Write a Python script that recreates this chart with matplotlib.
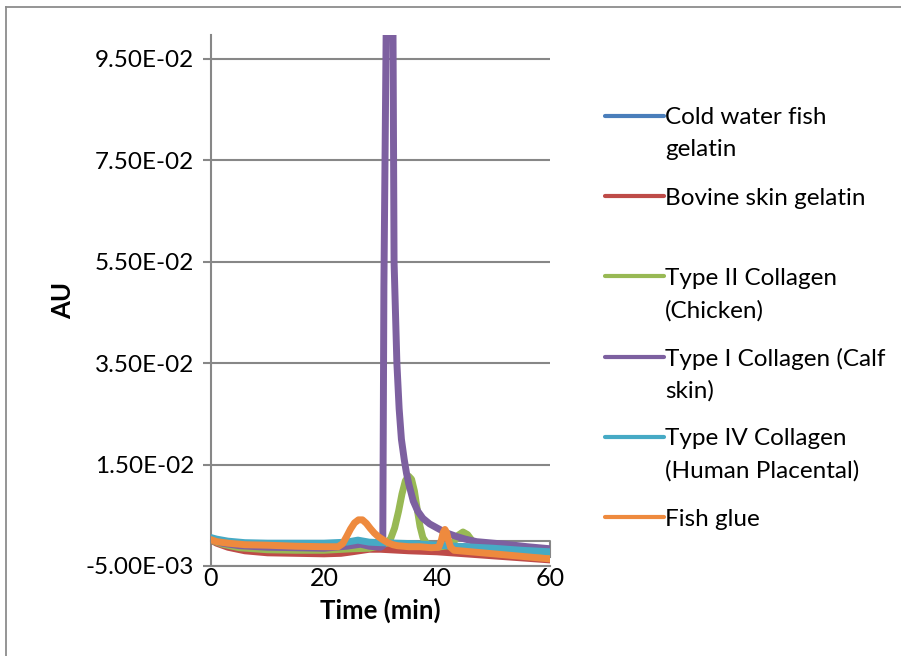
import matplotlib
matplotlib.use("Agg")
import matplotlib.pyplot as plt
from matplotlib.lines import Line2D

plt.rcParams['font.family'] = ['Lato', 'DejaVu Sans']

# ---------------- data ----------------
series_names = [
    "Cold water fish\ngelatin",
    "Bovine skin gelatin",
    "Type II Collagen\n(Chicken)",
    "Type I Collagen (Calf\nskin)",
    "Type IV Collagen\n(Human Placental)",
    "Fish glue",
]
series_colors = ["#4A7EBB", "#BE4B48", "#98B954", "#7D60A0", "#46AAC5", "#EE8A3E"]

t_blue = [0, 1, 3, 6, 10, 15, 20, 24, 26, 28, 30, 35, 40, 45, 50, 55, 60]
v_blue = [0.0005, 0.0001, -0.0004, -0.0007, -0.0008, -0.0008, -0.0008, -0.0006, -0.0003,
          -0.0006, -0.0007, -0.0008, -0.0010, -0.0012, -0.0015, -0.0018, -0.0022]

t_red = [0, 1, 3, 6, 10, 15, 20, 23, 25, 28, 30, 35, 40, 45, 50, 55, 60]
v_red = [0.0001, -0.0005, -0.0013, -0.0020, -0.0024, -0.0025, -0.0026, -0.0025, -0.0022,
         -0.0017, -0.0017, -0.0020, -0.0022, -0.0026, -0.0030, -0.0034, -0.0038]

t_green = [0, 2, 5, 10, 15, 20, 25, 28, 30, 31, 31.8, 32.5, 33.2, 33.8, 34.4, 35.0, 35.5,
           36.0, 36.5, 37.0, 37.5, 38.2, 39, 40, 42, 43, 43.8, 44.6, 45.4, 46.2, 47, 50, 55, 60]
v_green = [0.0001, -0.0007, -0.0014, -0.0018, -0.0019, -0.0019, -0.0016, -0.0015, -0.0010,
           -0.0005, 0.0004, 0.0025, 0.0058, 0.0092, 0.0118, 0.0127, 0.0121,
           0.0098, 0.0062, 0.0028, 0.0006, -0.0006, -0.0011, -0.0013, -0.0010, -0.0002,
           0.0011, 0.0017, 0.0012, 0.0000, -0.0012, -0.0020, -0.0028, -0.0034]

t_purple = [0, 2, 5, 10, 15, 20, 24, 26.5, 28, 30, 30.4, 30.6, 31.8, 32.4, 32.9, 33.3, 33.7,
            34.2, 34.6, 35.0, 35.8, 36.6, 37.5, 38.7, 40, 41.5, 43.5, 45, 47, 52, 56, 60]
v_purple = [0.0002, -0.0005, -0.0010, -0.0013, -0.0014, -0.0015, -0.0011, -0.0007, -0.0011,
            -0.0013, -0.0010, 0.050, 0.200, 0.055, 0.035, 0.026, 0.020,
            0.016, 0.0133, 0.0112, 0.0078, 0.0058, 0.0044, 0.0033, 0.0025, 0.0016, 0.0008,
            0.0003, -0.0002, -0.0007, -0.0012, -0.0016]

t_teal = [0, 1, 3, 6, 10, 15, 20, 24, 26, 28, 30, 33, 36, 40, 45, 50, 55, 60]
v_teal = [0.0006, 0.0003, -0.0001, -0.0004, -0.0005, -0.0005, -0.0005, -0.0003, 0.0001,
          -0.0003, -0.0004, -0.0005, -0.0006, -0.0009, -0.0012, -0.0015, -0.0019, -0.0022]

t_orange = [0, 1, 3, 6, 10, 15, 20, 22.5, 23.3, 24.0, 24.7, 25.4, 26.1, 26.8, 27.5, 28.2,
            28.9, 29.6, 30.4, 31.3, 32.2, 33, 35, 37, 39, 40.3, 40.8, 41.1, 41.4, 41.7, 42.0,
            42.4, 43, 46, 50, 55, 60]
v_orange = [0.0002, -0.0002, -0.0005, -0.0008, -0.0009, -0.0011, -0.0012, -0.0012, -0.0006,
            0.0008, 0.0023, 0.0035, 0.0041, 0.0041, 0.0034, 0.0024,
            0.0015, 0.0008, 0.0002, -0.0004, -0.0008, -0.0010, -0.0012, -0.0012, -0.0014,
            -0.0013, 0.0002, 0.0016, 0.0022, 0.0016, 0.0002,
            -0.0013, -0.0019, -0.0022, -0.0026, -0.0031, -0.0036]

all_t = [t_blue, t_red, t_green, t_purple, t_teal, t_orange]
all_v = [v_blue, v_red, v_green, v_purple, v_teal, v_orange]

y_ticks = [-0.005, 0.015, 0.035, 0.055, 0.075, 0.095]
y_tick_labels = ["-5.00E-03", "1.50E-02", "3.50E-02", "5.50E-02", "7.50E-02", "9.50E-02"]
x_ticks = [0, 20, 40, 60]
x_tick_labels = ["0", "20", "40", "60"]
x_label = "Time (min)"
y_label = "AU"

# ---------------- figure ----------------
W, H = 901, 656
fig = plt.figure(figsize=(W / 100, H / 100), dpi=100)
fig.patch.set_facecolor("white")

# outer frame (left and top edges visible)
frame_c = "#8C8C8C"
fig.add_artist(Line2D([5.5 / W, 5.5 / W], [0, 1 - 6.5 / H], transform=fig.transFigure,
                      color=frame_c, linewidth=1.3))
fig.add_artist(Line2D([5.5 / W, 1], [1 - 6.5 / H, 1 - 6.5 / H], transform=fig.transFigure,
                      color=frame_c, linewidth=1.3))

ax = fig.add_axes([211 / W, (H - 566) / H, 339 / W, (566 - 35) / H])
ax.set_xlim(0, 60)
ax.set_ylim(-0.005, 0.0997)

grid_color = "#878787"
for y in y_ticks:
    ax.axhline(y, color=grid_color, linewidth=1.5, zorder=1)
ax.plot([0, 60, 60], [0, 0, -0.0033], color=grid_color, linewidth=1.5, zorder=1, clip_on=False)

for t, v, c in zip(all_t, all_v, series_colors):
    ax.plot(t, v, color=c, linewidth=5.0, solid_capstyle="round", solid_joinstyle="round", zorder=3)

for s in ["top", "right"]:
    ax.spines[s].set_visible(False)
for s in ["left", "bottom"]:
    ax.spines[s].set_color(grid_color)
    ax.spines[s].set_linewidth(1.5)

ax.set_yticks(y_ticks)
ax.set_yticklabels(y_tick_labels)
ax.set_xticks(x_ticks)
ax.set_xticklabels(x_tick_labels)
ax.tick_params(axis="y", direction="out", length=6, width=1.5, color=grid_color,
               labelsize=17.5, pad=6)
ax.tick_params(axis="x", direction="out", length=0, width=1.5, color=grid_color,
               labelsize=18, pad=1)

ax.set_xlabel(x_label, fontsize=18.5, fontweight="bold", labelpad=5)
ax.set_ylabel(y_label, fontsize=18.5, fontweight="bold", labelpad=7.5)

# legend (Excel-style, evenly spaced entries)
leg_y0 = 116
leg_step = 80.2
line_gap = 32
for i, (name, c) in enumerate(zip(series_names, series_colors)):
    yc = leg_y0 + i * leg_step
    fig.add_artist(Line2D([605 / W, 664 / W], [1 - yc / H, 1 - yc / H], transform=fig.transFigure,
                          color=c, linewidth=3, solid_capstyle="round"))
    for j, line in enumerate(name.split("\n")):
        fig.text(665 / W, 1 - (yc + j * line_gap) / H, line, fontsize=17.5,
                 va="center_baseline", ha="left", color="black")

fig.savefig("out.png", dpi=100)
